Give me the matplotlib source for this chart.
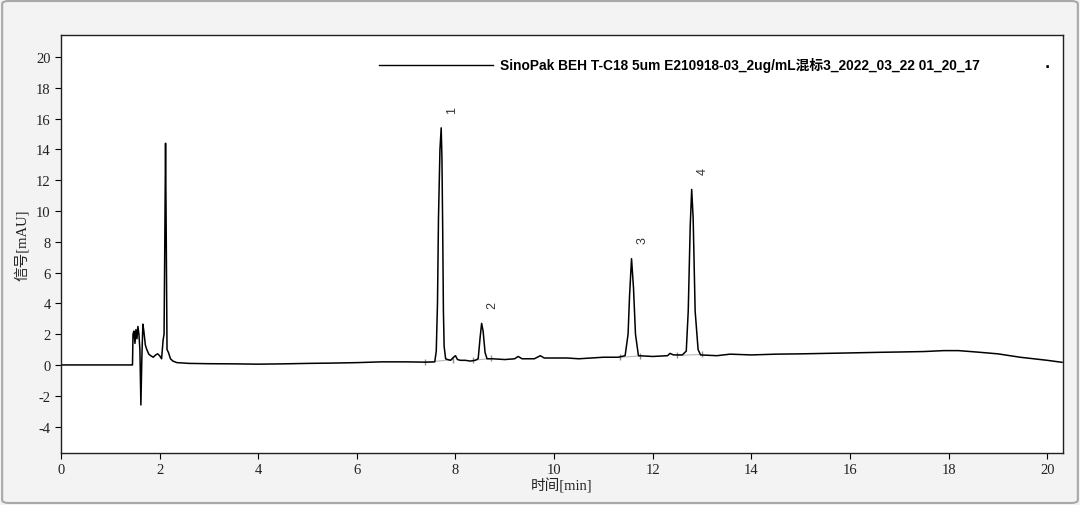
import matplotlib
matplotlib.use("Agg")
import matplotlib.pyplot as plt
from matplotlib.patches import FancyBboxPatch

plt.rcParams["axes.unicode_minus"] = False

# ---- data ----
time_min = [0.0, 1.44, 1.45, 1.46, 1.48, 1.50, 1.52, 1.54, 1.56, 1.58, 1.60, 1.62, 1.64,
            1.66, 1.68, 1.71, 1.74, 1.78, 1.82, 1.87, 1.92, 1.96, 2.00, 2.04, 2.07, 2.09,
            2.105, 2.12, 2.135, 2.15, 2.18, 2.22, 2.27, 2.35, 2.6, 3.0, 3.5, 4.0, 4.5,
            5.0, 5.5, 6.0, 6.5, 7.0, 7.4, 7.58, 7.61, 7.635, 7.655, 7.685, 7.71, 7.725,
            7.74, 7.755, 7.77, 7.80, 7.84, 7.90, 7.96, 8.00, 8.04, 8.10, 8.20, 8.30,
            8.40, 8.46, 8.50, 8.53, 8.56, 8.60, 8.64, 8.75, 9.0, 9.2, 9.27, 9.35, 9.6,
            9.72, 9.8, 10.26, 10.5, 11.0, 11.3, 11.44, 11.50, 11.53, 11.57, 11.61,
            11.65, 11.71, 12.0, 12.3, 12.35, 12.42, 12.6, 12.68, 12.72, 12.76, 12.79,
            12.82, 12.86, 12.92, 12.97, 13.3, 13.57, 14.0, 14.5, 15.0, 15.5, 16.0,
            16.6, 17.0, 17.5, 17.9, 18.2, 18.6, 19.0, 19.45, 20.0, 20.3]
signal_mau = [0.0, 0.0, 0.0, 2.0, 2.2, 1.4, 2.3, 1.7, 2.5, 2.0, 1.0, -2.6, 0.5,
              2.65, 2.2, 1.3, 1.0, 0.7, 0.6, 0.5, 0.65, 0.72, 0.6, 0.4, 1.6, 2.0,
              8.0, 14.4, 8.0, 1.0, 0.8, 0.4, 0.25, 0.15, 0.1, 0.08, 0.07, 0.05, 0.07,
              0.1, 0.12, 0.15, 0.2, 0.2, 0.18, 0.2, 0.9, 4.0, 9.5, 14.0, 15.4, 13.5,
              9.0, 3.5, 1.2, 0.4, 0.35, 0.3, 0.5, 0.6, 0.35, 0.3, 0.3, 0.25,
              0.3, 0.4, 1.8, 2.7, 2.2, 0.8, 0.4, 0.4, 0.35, 0.4, 0.55, 0.4, 0.4,
              0.6, 0.45, 0.45, 0.4, 0.5, 0.5, 0.6, 2.0, 4.5, 6.9, 5.0,
              2.0, 0.6, 0.55, 0.6, 0.75, 0.65, 0.65, 0.9, 3.5, 9.0, 11.4,
              9.5, 3.5, 1.0, 0.65, 0.6, 0.7, 0.65, 0.7, 0.72, 0.75, 0.78,
              0.82, 0.84, 0.87, 0.93, 0.93, 0.83, 0.72, 0.5, 0.3, 0.17]

peak_names = ["1", "2", "3", "4"]
peak_rt = [7.71, 8.53, 11.57, 12.79]
peak_height = [15.4, 2.7, 6.9, 11.4]
peak_start = [7.38, 8.36, 11.34, 12.49]
peak_end = [7.95, 8.73, 11.74, 12.99]
base_start = [0.17, 0.3, 0.5, 0.62]
base_end = [0.35, 0.42, 0.58, 0.68]

x_ticks = [0, 2, 4, 6, 8, 10, 12, 14, 16, 18, 20]
y_ticks = [-4, -2, 0, 2, 4, 6, 8, 10, 12, 14, 16, 18, 20]
legend_label = "SinoPak BEH T-C18 5um E210918-03_2ug/mL混标3_2022_03_22 01_20_17"
x_label = "时间[min]"
y_label = "信号[mAU]"

# ---- figure ----
fig = plt.figure(figsize=(10.8, 5.06), dpi=100, facecolor="#f3f3f3")
frame = FancyBboxPatch((0.002, 0.004), 0.996, 0.992, boxstyle="round,pad=0,rounding_size=0.006",
                       transform=fig.transFigure, facecolor="none", edgecolor="#a8a8a8",
                       linewidth=1.5)
fig.patches.append(frame)

ax = fig.add_axes([61 / 1080, 1 - 454 / 506, (1063 - 61) / 1080, (454 - 36) / 506])
ax.set_facecolor("white")

# integration baselines
for s, e, bs, be in zip(peak_start, peak_end, base_start, base_end):
    ax.plot([s, e], [bs, be], color="#b8b8b8", lw=0.8, zorder=1)
    ax.plot([s, e], [bs, be], linestyle="none", marker="|", markersize=4,
            color="#909090", zorder=1)

ax.plot(time_min, signal_mau, color="black", lw=1.1, zorder=2)

for name, rt, h in zip(peak_names, peak_rt, peak_height):
    ax.annotate(name, xy=(rt, h), xytext=(8, 11), textcoords="offset points",
                rotation=90, ha="center", va="bottom", fontsize=9,
                family="Liberation Sans", color="#333333")

ax.set_xlim(0, 20.32)
ax.set_ylim(-5.72, 21.43)
ax.set_xticks(x_ticks)
ax.set_yticks(y_ticks)
ax.tick_params(direction="out", length=4, width=0.8, colors="black",
               labelsize=10.5, labelcolor="#222222")
for lbl in ax.get_xticklabels() + ax.get_yticklabels():
    lbl.set_family("Liberation Serif")
for sp in ax.spines.values():
    sp.set_linewidth(1.0)
    sp.set_color("#202020")

ax.set_xlabel(x_label, family=["Liberation Serif", "Noto Sans CJK SC"], fontsize=10.5,
              labelpad=1, color="#222222")
ax.set_ylabel(y_label, family=["Liberation Serif", "Noto Sans CJK SC"], fontsize=10.5,
              labelpad=5, color="#222222")

# legend-like header
ax.plot([6.45, 8.77], [19.5, 19.5], color="black", lw=1.0)
ax.text(8.9, 19.5, legend_label, family=["Liberation Sans", "Noto Sans CJK SC"],
        fontsize=9.9, fontweight="bold", va="center", ha="left", color="black")
ax.text(20.0, 19.6, ".", fontsize=10, fontweight="bold", va="center", ha="center",
        color="black")

fig.savefig("out.png", dpi=100, facecolor=fig.get_facecolor())
